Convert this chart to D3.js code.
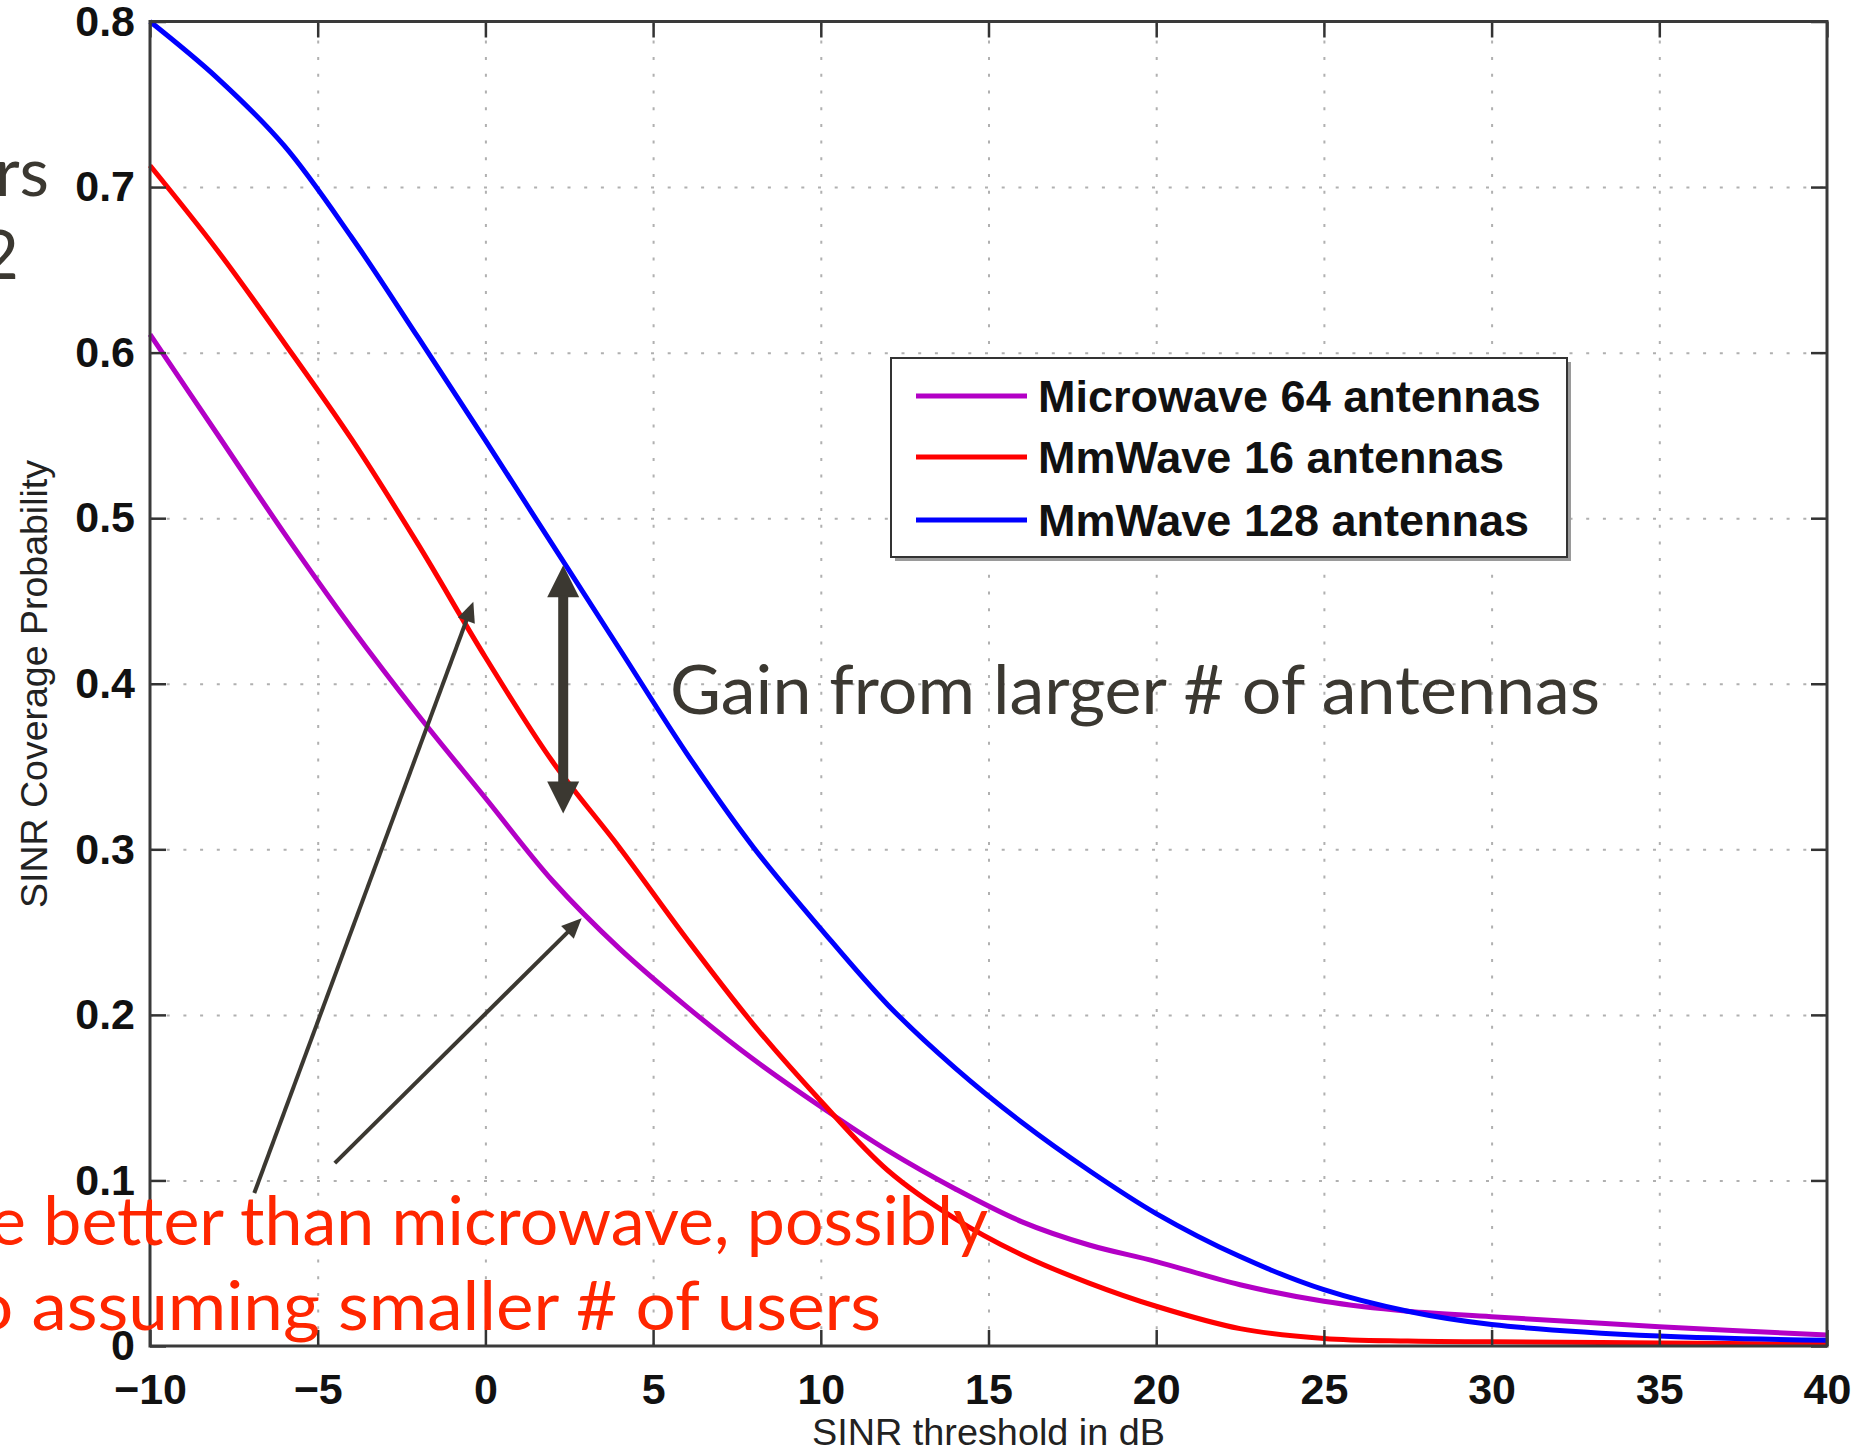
<!DOCTYPE html>
<html>
<head>
<meta charset="utf-8">
<script src="https://cdn.jsdelivr.net/npm/d3@7"></script>
<style>
  html, body { margin: 0; padding: 0; background: #fff; }
  svg { display: block; }
</style>
</head>
<body>
<div id="chart"></div>
<script>
const sinrDb = [-10, -8, -6, -4, -2, 0, 2, 4, 6, 8, 10, 12, 14, 16, 18, 20, 22.5, 25, 27.5, 30, 35, 40];

// coverage probability per series
const microwave64 = [0.611, 0.551, 0.491, 0.434, 0.381, 0.331, 0.281, 0.240, 0.205, 0.173, 0.1445, 0.118, 0.095, 0.075, 0.061, 0.051, 0.037, 0.027, 0.021, 0.0177, 0.0117, 0.0066];
const mmwave16 = [0.713, 0.662, 0.606, 0.548, 0.484, 0.416, 0.353, 0.301, 0.246, 0.194, 0.148, 0.106, 0.077, 0.055, 0.038, 0.024, 0.0105, 0.0046, 0.003, 0.0025, 0.0018, 0.001];
const mmwave128 = [0.800, 0.766, 0.725, 0.670, 0.609, 0.547, 0.484, 0.421, 0.358, 0.301, 0.252, 0.206, 0.168, 0.135, 0.106, 0.080, 0.054, 0.034, 0.021, 0.013, 0.006, 0.0035];

const seriesNames = ["Microwave 64 antennas", "MmWave 16 antennas", "MmWave 128 antennas"];
const seriesColors = ["#b300c6", "#ff0000", "#0000ff"];

const xTickValues = [-10, -5, 0, 5, 10, 15, 20, 25, 30, 35, 40];
const yTickValues = [0, 0.1, 0.2, 0.3, 0.4, 0.5, 0.6, 0.7, 0.8];

const xLabel = "SINR threshold in dB";
const yLabel = "SINR Coverage Probability";

// annotation anchors, in data units [dB, probability]
const gainArrow = [[2.32, 0.4716], [2.32, 0.3217]];
const pointerArrows = [
  [[-6.89, 0.0924], [-0.36, 0.4495]],
  [[-4.49, 0.1105], [2.87, 0.2583]]
];

// set up the chart
const width = 1873;
const height = 1451;
const plot = { left: 150, right: 1827, top: 21.5, bottom: 1346 };
const inkColor = "#3b3831";
const tickFont = "'Liberation Sans', Arial, Helvetica, sans-serif";
const slideFont = "Lato, 'Open Sans', sans-serif";

const svg = d3.select("#chart")
  .append("svg")
  .attr("width", width)
  .attr("height", height)
  .style("background", "#fff");

const xScale = d3.scaleLinear().domain([-10, 40]).range([plot.left, plot.right]);
const yScale = d3.scaleLinear().domain([0, 0.8]).range([plot.bottom, plot.top]);

const plotW = plot.right - plot.left;
const plotH = plot.bottom - plot.top;

// dotted grid
svg.append("g")
  .attr("class", "grid-x")
  .attr("transform", `translate(0, ${plot.bottom})`)
  .call(d3.axisBottom(xScale).tickValues(xTickValues.slice(1, -1)).tickSize(-plotH).tickFormat(""))
  .call(g => g.select(".domain").remove())
  .call(g => g.selectAll("line").attr("stroke", "#b0b0b0").attr("stroke-width", 2).attr("stroke-dasharray", "3,13.7"));

svg.append("g")
  .attr("class", "grid-y")
  .attr("transform", `translate(${plot.left}, 0)`)
  .call(d3.axisLeft(yScale).tickValues(yTickValues.slice(1, -1)).tickSize(-plotW).tickFormat(""))
  .call(g => g.select(".domain").remove())
  .call(g => g.selectAll("line").attr("stroke", "#b0b0b0").attr("stroke-width", 2).attr("stroke-dasharray", "3,13.7"));

// curves
const lineGen = d3.line()
  .x((d) => xScale(d[0]))
  .y((d) => yScale(d[1]))
  .curve(d3.curveCatmullRom.alpha(0.5));

[microwave64, mmwave16, mmwave128].forEach((vals, i) => {
  svg.append("path")
    .datum(sinrDb.map((x, j) => [x, vals[j]]))
    .attr("fill", "none")
    .attr("stroke", seriesColors[i])
    .attr("stroke-width", 5)
    .attr("stroke-linejoin", "round")
    .attr("d", lineGen);
});

// axes: MATLAB style inward ticks on all four sides
const tickFmt = d3.format(".1f");
function styleAxis(g) {
  g.select(".domain").remove();
  g.selectAll("line").attr("stroke", "#333").attr("stroke-width", 2.5);
  g.selectAll("text")
    .attr("fill", "#111")
    .style("font-family", tickFont)
    .style("font-size", "43px")
    .style("font-weight", "bold");
}

svg.append("g")
  .attr("transform", `translate(0, ${plot.bottom})`)
  .call(d3.axisBottom(xScale).tickValues(xTickValues).tickSizeInner(-16).tickSizeOuter(0).tickPadding(27))
  .call(styleAxis);

svg.append("g")
  .attr("transform", `translate(0, ${plot.top})`)
  .call(d3.axisTop(xScale).tickValues(xTickValues).tickSizeInner(-16).tickSizeOuter(0).tickFormat(""))
  .call(styleAxis);

svg.append("g")
  .attr("transform", `translate(${plot.left}, 0)`)
  .call(d3.axisLeft(yScale).tickValues(yTickValues).tickSizeInner(-16).tickSizeOuter(0).tickPadding(15)
    .tickFormat((d) => (d === 0 ? "0" : tickFmt(d))))
  .call(styleAxis);

svg.append("g")
  .attr("transform", `translate(${plot.right}, 0)`)
  .call(d3.axisRight(yScale).tickValues(yTickValues).tickSizeInner(-16).tickSizeOuter(0).tickFormat(""))
  .call(styleAxis);

// axes box
svg.append("rect")
  .attr("x", plot.left)
  .attr("y", plot.top)
  .attr("width", plotW)
  .attr("height", plotH)
  .attr("fill", "none")
  .attr("stroke", "#3a3a3a")
  .attr("stroke-width", 3);

// axis labels
svg.append("text")
  .attr("x", (plot.left + plot.right) / 2)
  .attr("y", 1445)
  .attr("text-anchor", "middle")
  .attr("textLength", 353)
  .attr("lengthAdjust", "spacingAndGlyphs")
  .style("font-family", tickFont)
  .style("font-size", "37px")
  .attr("fill", "#222")
  .text(xLabel);

svg.append("text")
  .attr("transform", "translate(47, 684) rotate(-90)")
  .attr("text-anchor", "middle")
  .attr("textLength", 448)
  .attr("lengthAdjust", "spacingAndGlyphs")
  .style("font-family", tickFont)
  .style("font-size", "36px")
  .attr("fill", "#222")
  .text(yLabel);

// legend
const legend = svg.append("g").attr("class", "legend");
legend.append("rect")
  .attr("x", 895).attr("y", 362).attr("width", 676).attr("height", 199)
  .attr("fill", "#9a9a9a");
legend.append("rect")
  .attr("x", 891).attr("y", 358).attr("width", 676).attr("height", 199)
  .attr("fill", "#fff")
  .attr("stroke", "#333")
  .attr("stroke-width", 2);

const legendRows = [396, 457, 520];
seriesNames.forEach((name, i) => {
  legend.append("line")
    .attr("x1", 916).attr("x2", 1027)
    .attr("y1", legendRows[i]).attr("y2", legendRows[i])
    .attr("stroke", seriesColors[i])
    .attr("stroke-width", 5);
  legend.append("text")
    .attr("x", 1038)
    .attr("y", legendRows[i])
    .attr("dy", "0.36em")
    .style("font-family", tickFont)
    .style("font-size", "45px")
    .style("font-weight", "bold")
    .attr("fill", "#111")
    .text(name);
});

// annotations
function arrowHead(g, tail, tip, len, halfW) {
  const dx = tip[0] - tail[0], dy = tip[1] - tail[1];
  const d = Math.hypot(dx, dy);
  const ux = dx / d, uy = dy / d;
  const bx = tip[0] - ux * len, by = tip[1] - uy * len;
  g.append("polygon")
    .attr("points", [
      [tip[0], tip[1]],
      [bx - uy * halfW, by + ux * halfW],
      [bx + uy * halfW, by - ux * halfW]
    ].map((p) => p.join(",")).join(" "))
    .attr("fill", inkColor);
  return [bx, by];
}

const notes = svg.append("g").attr("class", "annotations");

pointerArrows.forEach(([from, to]) => {
  const tail = [xScale(from[0]), yScale(from[1])];
  const tip = [xScale(to[0]), yScale(to[1])];
  const base = arrowHead(notes, tail, tip, 20, 9);
  notes.append("line")
    .attr("x1", tail[0]).attr("y1", tail[1])
    .attr("x2", base[0] + (tip[0] - base[0]) * 0.2).attr("y2", base[1] + (tip[1] - base[1]) * 0.2)
    .attr("stroke", inkColor)
    .attr("stroke-width", 4);
});

{
  const top = [xScale(gainArrow[0][0]), yScale(gainArrow[0][1])];
  const bot = [xScale(gainArrow[1][0]), yScale(gainArrow[1][1])];
  const b1 = arrowHead(notes, bot, top, 32, 16);
  const b2 = arrowHead(notes, top, bot, 32, 16);
  notes.append("line")
    .attr("x1", b1[0]).attr("y1", b1[1] - 2)
    .attr("x2", b2[0]).attr("y2", b2[1] + 2)
    .attr("stroke", inkColor)
    .attr("stroke-width", 10);
}

notes.append("text")
  .attr("x", 670).attr("y", 714)
  .attr("textLength", 930)
  .attr("lengthAdjust", "spacingAndGlyphs")
  .style("font-family", slideFont)
  .style("font-size", "68px")
  .attr("fill", inkColor)
  .text("Gain from larger # of antennas");

// slide text cut off by the left edge
notes.append("text")
  .attr("x", 49).attr("y", 196)
  .attr("text-anchor", "end")
  .style("font-family", slideFont)
  .style("font-size", "68px")
  .attr("fill", inkColor)
  .text("rs");

notes.append("text")
  .attr("x", 19).attr("y", 279)
  .attr("text-anchor", "end")
  .style("font-family", slideFont)
  .style("font-size", "68px")
  .attr("fill", inkColor)
  .text("2");

notes.append("text")
  .attr("x", -10).attr("y", 1245)
  .attr("textLength", 998)
  .attr("lengthAdjust", "spacingAndGlyphs")
  .style("font-family", slideFont)
  .style("font-size", "68px")
  .attr("fill", "#ff2600")
  .text("e better than microwave, possibly");

notes.append("text")
  .attr("x", -27).attr("y", 1330)
  .attr("textLength", 908)
  .attr("lengthAdjust", "spacingAndGlyphs")
  .style("font-family", slideFont)
  .style("font-size", "68px")
  .attr("fill", "#ff2600")
  .text("o assuming smaller # of users");
</script>
</body>
</html>
